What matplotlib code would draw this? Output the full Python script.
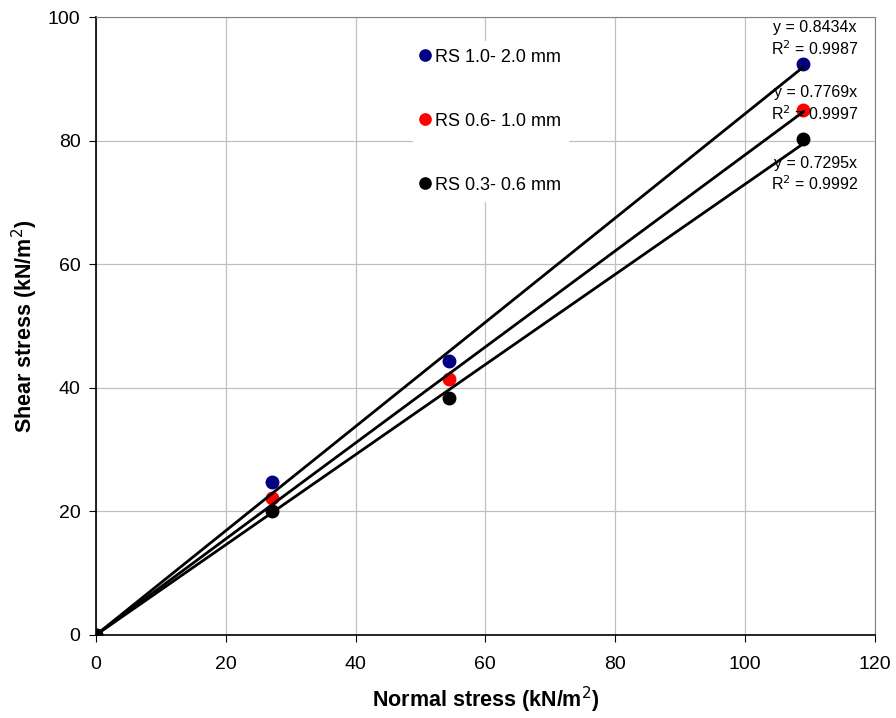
import numpy as np
import matplotlib.pyplot as plt

plt.rcParams['font.family'] = ['Liberation Sans', 'DejaVu Sans']

# esfuerzo normal (kN/m2)
normal = [0, 27.2, 54.4, 109]

# esfuerzo cortante por tamaño de arena
rs_10_20 = [0, 24.8, 44.4, 92.4]
rs_06_10 = [0, 22.1, 41.5, 85.0]
rs_03_06 = [0, 20.1, 38.3, 80.2]

labels = ['RS 1.0- 2.0 mm', 'RS 0.6- 1.0 mm', 'RS 0.3- 0.6 mm']
colors = ['#000080', '#ff0000', '#000000']
slopes = [0.8434, 0.7769, 0.7295]
r2 = [0.9987, 0.9997, 0.9992]
series = [rs_10_20, rs_06_10, rs_03_06]

fig = plt.figure(figsize=(8.96, 7.18), dpi=100)
ax = fig.add_axes([0.107, 0.1156, 0.8694, 0.8607])

for ys, c, lab in zip(series, colors, labels):
    ax.plot(normal, ys, 'o', color=c, markersize=9, label=lab, zorder=3)

# lineas de tendencia (y = m x)
xl = np.array([0, normal[-1]])
for m in slopes:
    ax.plot(xl, m * xl, color='black', linewidth=2, zorder=4)

# ecuaciones
eq_y = [96.4, 85.9, 74.5]
for m, r, yy in zip(slopes, r2, eq_y):
    ax.text(110.8, yy, 'y = %.4fx\nR$^2$ = %.4f' % (m, r), ha='center', va='center',
            fontsize=11.5, linespacing=1.25, zorder=5)

ax.set_xlim(0, 120)
ax.set_ylim(0, 100)
ax.set_xticks(range(0, 121, 20))
ax.set_yticks(range(0, 101, 20))
ax.grid(True, color='#c0c0c0', linewidth=0.9)
ax.set_axisbelow(True)
ax.tick_params(labelsize=14, direction='out', length=5, color='black')
ax.tick_params(axis='x', pad=10)
ax.tick_params(axis='y', pad=6)

for s in ['top', 'right']:
    ax.spines[s].set_color('#808080')
for s in ['left', 'bottom']:
    ax.spines[s].set_color('black')
    ax.spines[s].set_linewidth(1.2)

ax.set_xlabel('Normal stress (kN/m$^2$)', fontsize=15.5, fontweight='bold', va='center')
ax.set_ylabel('Shear stress (kN/m$^2$)', fontsize=15.5, fontweight='bold', va='center')
ax.xaxis.set_label_coords(0.5, -0.105)
ax.yaxis.set_label_coords(-0.091, 0.5)

leg = ax.legend(loc='upper left', bbox_to_anchor=(0.395, 0.975), frameon=True,
                fontsize=13, handlelength=0.6, handletextpad=0.25, labelspacing=2.6,
                borderpad=0.4, markerscale=0.9)
leg.get_frame().set_edgecolor('white')
leg.get_frame().set_facecolor('white')
leg.get_frame().set_alpha(1)

fig.savefig('out.png', dpi=100)
